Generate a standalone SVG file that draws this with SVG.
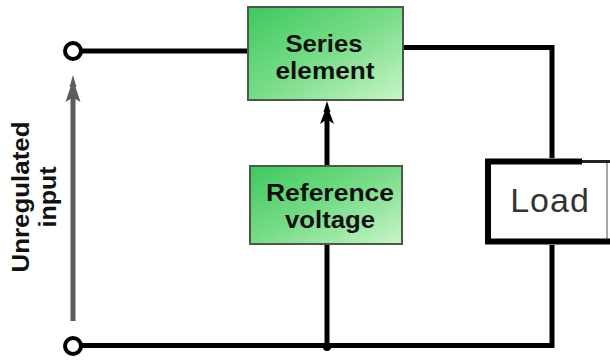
<svg xmlns="http://www.w3.org/2000/svg" width="610" height="362" viewBox="0 0 610 362">
<defs>
<linearGradient id="green" x1="0" y1="0" x2="1" y2="1">
<stop offset="0" stop-color="#3fc85f"/>
<stop offset="0.5" stop-color="#78dc88"/>
<stop offset="1" stop-color="#c8f5c8"/>
</linearGradient>
</defs>
<style>
.wire{fill:none;stroke:#000;stroke-width:5}
.box{fill:url(#green);stroke:#4a5a4a;stroke-width:2}
.bt{font-family:"Liberation Sans",Arial,sans-serif;font-weight:bold;font-size:24px;fill:#111;text-anchor:middle}
.term{fill:#fff;stroke:#000;stroke-width:4}
</style>
<rect width="610" height="362" fill="#fff"/>
<g id="connectors">
<line class="wire" x1="81" y1="51" x2="248" y2="51"/>
<path class="wire" d="M403 47.5 H552 V158"/>
<path class="wire" d="M552 245 V345.5 H81"/>
<line class="wire" x1="327" y1="244" x2="327" y2="345"/>
<circle cx="327" cy="347" r="4" fill="#000"/>
<line class="wire" x1="327" y1="166" x2="327" y2="118"/>
<path d="M327 101 L323.5 112 L324.5 112 L320 124 L324.5 121 L329.5 121 L334 124 L329.5 112 L330.5 112 Z" fill="#000"/>
<line x1="73" y1="321" x2="73" y2="98" stroke="#5c5c5c" stroke-width="5"/>
<path d="M73 75 L69.5 87 L70.5 87 L65.5 102 L70.5 99 L75.5 99 L80.5 102 L75.5 87 L76.5 87 Z" fill="#5c5c5c"/>
</g>
<g id="term-top"><circle class="term" cx="73" cy="51" r="8"/></g>
<g id="term-bottom"><circle class="term" cx="73" cy="346" r="8"/></g>
<g id="series">
<rect class="box" x="248" y="7" width="155" height="93"/>
<text class="bt" x="324" y="52" textLength="77" lengthAdjust="spacingAndGlyphs">Series</text>
<text class="bt" x="325" y="79" textLength="99" lengthAdjust="spacingAndGlyphs">element</text>
</g>
<g id="reference">
<rect class="box" x="250" y="166" width="152" height="78"/>
<text class="bt" x="330" y="201" textLength="128" lengthAdjust="spacingAndGlyphs">Reference</text>
<text class="bt" x="330" y="228" textLength="90" lengthAdjust="spacingAndGlyphs">voltage</text>
</g>
<g id="load">
<rect x="488" y="161" width="119" height="81" fill="#fff"/>
<line x1="607" y1="162" x2="607" y2="242" stroke="#8a8a8a" stroke-width="1.5"/>
<line x1="582" y1="161.5" x2="610" y2="161.5" stroke="#222" stroke-width="3"/>
<path d="M582 161.5 H488 V241.5 H610" fill="none" stroke="#000" stroke-width="6"/>
<text x="550" y="212" font-family="Liberation Sans,Arial,sans-serif" font-size="34" fill="#333" text-anchor="middle" letter-spacing="1">Load</text>
</g>
<g id="label">
<text class="bt" transform="translate(29,197) rotate(-90)" x="0" y="0" textLength="151" lengthAdjust="spacingAndGlyphs">Unregulated</text>
<text class="bt" transform="translate(56,197) rotate(-90)" x="0" y="0" textLength="61" lengthAdjust="spacingAndGlyphs">input</text>
</g>
</svg>
